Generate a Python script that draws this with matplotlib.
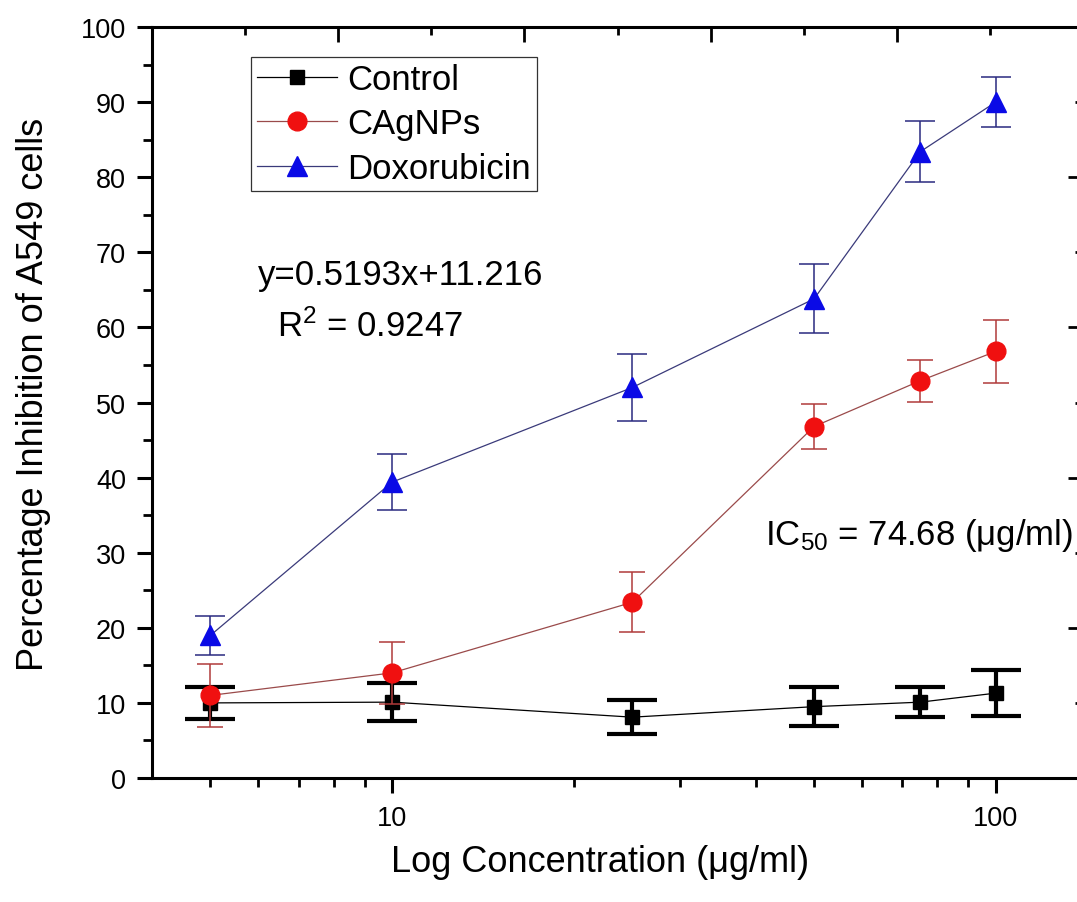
import numpy as np
import matplotlib
matplotlib.use("Agg")
import matplotlib.pyplot as plt
from matplotlib.lines import Line2D
from matplotlib.ticker import MultipleLocator

plt.rcParams['font.family'] = ['Liberation Sans', 'DejaVu Sans']
plt.rcParams['mathtext.fontset'] = 'custom'
plt.rcParams['mathtext.rm'] = 'Liberation Sans'
plt.rcParams['mathtext.default'] = 'regular'

# data
conc = [5, 10, 25, 50, 75, 100]
control = [10.0, 10.1, 8.1, 9.5, 10.1, 11.3]
control_err = [2.1, 2.5, 2.3, 2.6, 2.0, 3.1]
cagnps = [11.0, 14.0, 23.4, 46.8, 52.9, 56.8]
cagnps_err = [4.2, 4.1, 4.0, 3.0, 2.8, 4.2]
dox = [19.0, 39.4, 52.0, 63.8, 83.4, 90.0]
dox_err = [2.6, 3.7, 4.5, 4.6, 4.1, 3.3]

x_major = [10, 100]
x_major_labels = ['10', '100']
x_minor = [5, 6, 7, 8, 9, 20, 30, 40, 50, 60, 70, 80, 90]

W, H = 1077, 903
fig = plt.figure(figsize=(W / 100, H / 100), dpi=100)
# right spine sits just outside the picture, as in the cropped original
ax = fig.add_axes([152 / W, 1 - 779 / H, 931 / W, 751 / H])

# --- series ---
ax.errorbar(conc, control, yerr=control_err, color='black', lw=0.9,
            marker='s', ms=9.5, mfc='black', mec='black',
            ecolor='black', elinewidth=3, capsize=18, capthick=3, zorder=3)
ax.errorbar(conc, cagnps, yerr=cagnps_err, color='#9a4a4a', lw=0.9,
            marker='o', ms=13.5, mfc='#f01010', mec='#f01010',
            ecolor='#b03a3a', elinewidth=1.1, capsize=9.5, capthick=1.1, zorder=4)
ax.errorbar(conc, dox, yerr=dox_err, color='#3a3a7a', lw=0.9,
            marker='^', ms=14.5, mfc='#0a0ae6', mec='#0a0ae6',
            ecolor='#2a2a80', elinewidth=1.1, capsize=10.5, capthick=1.1, zorder=5)

# --- axes ---
ax.set_xscale('log')
ax.set_xlim(4, 139.5)
ax.set_ylim(0, 100)
ax.set_xticks(x_major)
ax.set_xticklabels(x_major_labels)
ax.set_xticks(x_minor, minor=True)
ax.set_xticklabels([], minor=True)
ax.yaxis.set_major_locator(MultipleLocator(10))
ax.yaxis.set_minor_locator(MultipleLocator(5))

for s in ax.spines.values():
    s.set_linewidth(2.2)
ax.tick_params(which='major', direction='out', length=10.8, width=2.2,
               labelsize=19.5, top=False, right=False)
ax.tick_params(which='minor', direction='out', length=6.2, width=2.0,
               top=False, right=False)
ax.tick_params(axis='y', which='major', pad=8)
ax.tick_params(axis='x', which='major', pad=9)

ax.set_xlabel('Log Concentration (μg/ml)', fontsize=26)
ax.xaxis.set_label_coords(0.481, -0.088)
ax.set_ylabel('Percentage Inhibition of A549 cells', fontsize=26)
ax.yaxis.set_label_coords(-0.108, 0.512)

# top axis: linear ticks pointing inward, no labels
ax_top = ax.twiny()
ax_top.set_xlim(0, 10)
ax_top.xaxis.set_major_locator(MultipleLocator(2))
ax_top.xaxis.set_minor_locator(MultipleLocator(1))
ax_top.tick_params(axis='x', which='major', direction='in', length=10.8, width=2.0,
                   labeltop=False, labelbottom=False)
ax_top.tick_params(axis='x', which='minor', direction='in', length=5.5, width=2.0)
for s in ax_top.spines.values():
    s.set_visible(False)

# right axis: inward ticks every 10, long every 20
ax_right = ax.twinx()
ax_right.set_ylim(0, 100)
ax_right.yaxis.set_major_locator(MultipleLocator(20))
ax_right.yaxis.set_minor_locator(MultipleLocator(10))
ax_right.tick_params(axis='y', which='major', direction='in', length=10.8, width=2.0,
                     labelright=False)
ax_right.tick_params(axis='y', which='minor', direction='in', length=5.5, width=2.0)
for s in ax_right.spines.values():
    s.set_visible(False)

# --- legend ---
handles = [
    Line2D([], [], color='black', lw=0.9, marker='s', ms=9.5, mfc='black', mec='black'),
    Line2D([], [], color='#9a4a4a', lw=0.9, marker='o', ms=13.5, mfc='#f01010', mec='#f01010'),
    Line2D([], [], color='#3a3a7a', lw=0.9, marker='^', ms=14.5, mfc='#0a0ae6', mec='#0a0ae6'),
]
leg = ax.legend(handles, ['Control', 'CAgNPs', 'Doxorubicin'],
                loc='upper left', bbox_to_anchor=(0.1063, 0.96),
                fontsize=25, frameon=True, fancybox=False, framealpha=1,
                edgecolor='#333333', handlelength=2.3, handletextpad=0.3,
                labelspacing=0.33, borderpad=0.17, borderaxespad=0)
leg.get_frame().set_linewidth(0.9)
leg.set_zorder(10)

# --- annotations ---
ax.text(0.1139, 0.658, 'y=0.5193x+11.216', transform=ax.transAxes,
        fontsize=25, va='baseline', ha='left')
ax.text(0.134, 0.589, r'R$^2$ = 0.9247', transform=ax.transAxes,
        fontsize=25, va='baseline', ha='left')
ax.text(0.658, 0.3116, r'IC$_{50}$ = 74.68 (μg/ml)', transform=ax.transAxes,
        fontsize=25, va='baseline', ha='left')

fig.savefig('out.png', dpi=100)
